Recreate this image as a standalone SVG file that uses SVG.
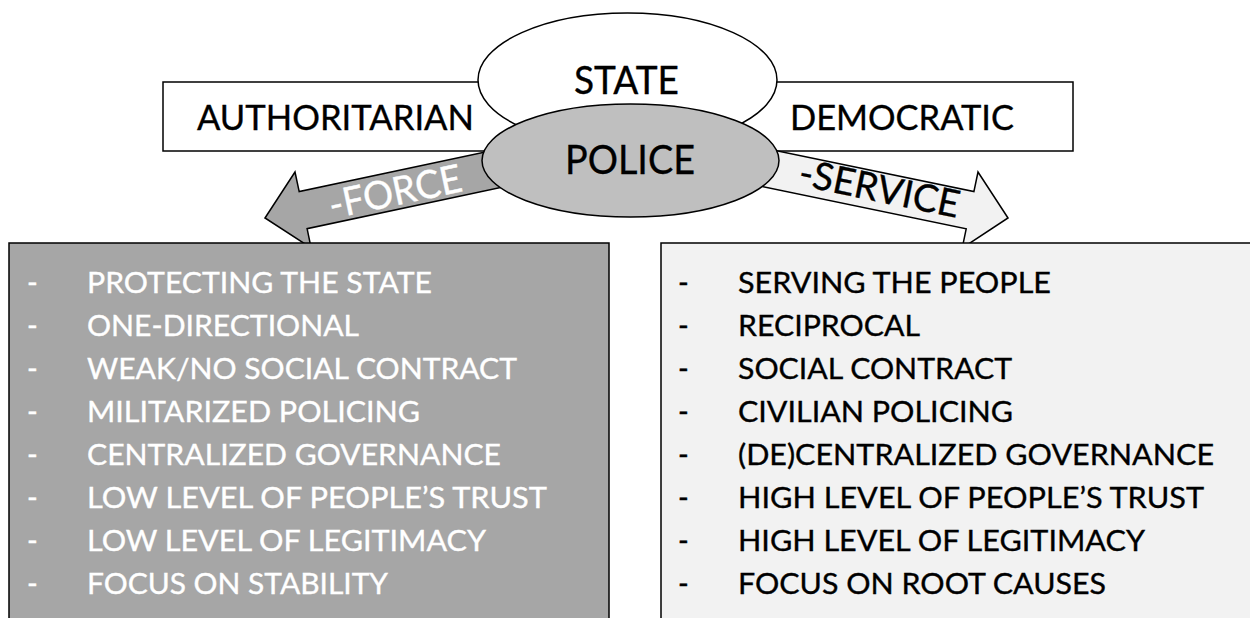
<svg xmlns="http://www.w3.org/2000/svg" width="1250" height="618" viewBox="0 0 1250 618">
<style>
  text { font-family: Lato, "Liberation Sans", sans-serif; stroke-width: 0.35; }
  .ln { stroke: #000; stroke-width: 1.5; }
  .hd { font-size: 35px; fill: #000; stroke: #000; }
  .dk { fill: #000; stroke: #000; }
  .li { font-size: 29px; }
  .lw text { fill: #fff; stroke: #fff; }
  .lb text { fill: #000; stroke: #000; }
</style>
<rect width="1250" height="618" fill="#fff"/>
<g id="authoritarian">
  <rect class="ln" x="163" y="82" width="397" height="69" fill="#fff"/>
  <text class="hd" x="197" y="130" textLength="277" lengthAdjust="spacingAndGlyphs">AUTHORITARIAN</text>
</g>
<g id="democratic">
  <rect class="ln" x="700" y="82" width="373" height="69" fill="#fff"/>
  <text class="hd" x="790" y="130" textLength="224" lengthAdjust="spacingAndGlyphs">DEMOCRATIC</text>
</g>
<g id="state">
  <ellipse class="ln" cx="627.5" cy="80" rx="149.5" ry="67" fill="#fff"/>
  <text class="dk" x="574" y="94" font-size="39" textLength="105" lengthAdjust="spacingAndGlyphs">STATE</text>
</g>
<g id="connectors">
  <g id="force-arrow">
    <polygon class="ln" fill="#a6a6a6" points="265,218 295,172 299.2,191.6 540,140.4 540,179.2 307.1,228.7 311.1,247.8"/>
    <text transform="translate(332,219) rotate(-12)" font-size="39" fill="#fff" stroke="#fff" textLength="135" lengthAdjust="spacingAndGlyphs">-FORCE</text>
  </g>
  <g id="service-arrow">
    <polygon class="ln" fill="#f2f2f2" points="1008,218 978,172 973.9,191.6 720,139 720,177.7 966.2,228.8 962.2,248.2"/>
    <text class="dk" transform="translate(797,185) rotate(11.7)" font-size="38" textLength="163" lengthAdjust="spacingAndGlyphs">-SERVICE</text>
  </g>
</g>
<g id="police">
  <ellipse class="ln" cx="630.5" cy="160.5" rx="148.5" ry="56.5" fill="#bfbfbf"/>
  <text class="dk" x="565" y="174" font-size="40" textLength="130" lengthAdjust="spacingAndGlyphs">POLICE</text>
</g>
<g id="authoritarian-list">
  <rect class="ln" x="9" y="243" width="600" height="400" fill="#a6a6a6"/>
  <g class="li lw">
    <text x="27" y="293">-</text><text x="87" y="293" textLength="345" lengthAdjust="spacingAndGlyphs">PROTECTING THE STATE</text>
    <text x="27" y="336">-</text><text x="87" y="336" textLength="272" lengthAdjust="spacingAndGlyphs">ONE-DIRECTIONAL</text>
    <text x="27" y="379">-</text><text x="87" y="379" textLength="430" lengthAdjust="spacingAndGlyphs">WEAK/NO SOCIAL CONTRACT</text>
    <text x="27" y="422">-</text><text x="87" y="422" textLength="333" lengthAdjust="spacingAndGlyphs">MILITARIZED POLICING</text>
    <text x="27" y="465">-</text><text x="87" y="465" textLength="414" lengthAdjust="spacingAndGlyphs">CENTRALIZED GOVERNANCE</text>
    <text x="27" y="508">-</text><text x="87" y="508" textLength="460" lengthAdjust="spacingAndGlyphs">LOW LEVEL OF PEOPLE’S TRUST</text>
    <text x="27" y="551">-</text><text x="87" y="551" textLength="399" lengthAdjust="spacingAndGlyphs">LOW LEVEL OF LEGITIMACY</text>
    <text x="27" y="594">-</text><text x="87" y="594" textLength="301" lengthAdjust="spacingAndGlyphs">FOCUS ON STABILITY</text>
  </g>
</g>
<g id="democratic-list">
  <rect class="ln" x="661" y="243" width="620" height="400" fill="#f2f2f2"/>
  <g class="li lb">
    <text x="678" y="293">-</text><text x="738" y="293" textLength="313" lengthAdjust="spacingAndGlyphs">SERVING THE PEOPLE</text>
    <text x="678" y="336">-</text><text x="738" y="336" textLength="182" lengthAdjust="spacingAndGlyphs">RECIPROCAL</text>
    <text x="678" y="379">-</text><text x="738" y="379" textLength="274" lengthAdjust="spacingAndGlyphs">SOCIAL CONTRACT</text>
    <text x="678" y="422">-</text><text x="738" y="422" textLength="275" lengthAdjust="spacingAndGlyphs">CIVILIAN POLICING</text>
    <text x="678" y="465">-</text><text x="738" y="465" textLength="476" lengthAdjust="spacingAndGlyphs">(DE)CENTRALIZED GOVERNANCE</text>
    <text x="678" y="508">-</text><text x="738" y="508" textLength="466" lengthAdjust="spacingAndGlyphs">HIGH LEVEL OF PEOPLE’S TRUST</text>
    <text x="678" y="551">-</text><text x="738" y="551" textLength="407" lengthAdjust="spacingAndGlyphs">HIGH LEVEL OF LEGITIMACY</text>
    <text x="678" y="594">-</text><text x="738" y="594" textLength="368" lengthAdjust="spacingAndGlyphs">FOCUS ON ROOT CAUSES</text>
  </g>
</g>
</svg>
